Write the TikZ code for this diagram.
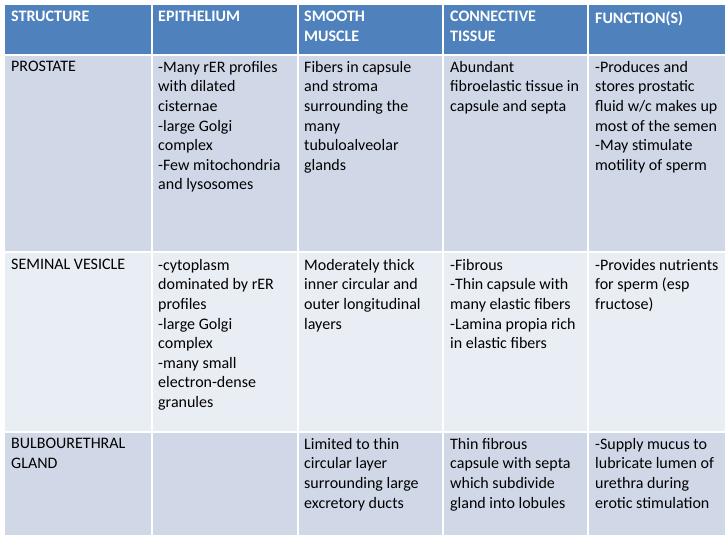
\documentclass[tikz,border=0pt]{standalone}
\usepackage{fontspec}
\setmainfont{Carlito}
\definecolor{hdr}{HTML}{4F81BD}
\definecolor{bandA}{HTML}{D0D8E8}
\definecolor{bandB}{HTML}{E9EDF4}
\begin{document}
\begin{tikzpicture}[x=1pt,y=-1pt,
  cell/.style={anchor=north west,inner sep=0pt,align=left,font=\fontsize{16}{19.6}\selectfont,text=black},
  head/.style={cell,text=white,font=\fontsize{16}{19.6}\selectfont\bfseries},
  sep/.style={white,line width=1.5pt}]
\useasboundingbox (0,0) rectangle (728,546);
\fill[white] (0,0) rectangle (728,546);
\fill[hdr] (5,5) rectangle (725,55);
\fill[bandA] (5,55) rectangle (725,252);
\fill[bandB] (5,252) rectangle (725,432);
\fill[bandA] (5,432) rectangle (725,535);
\foreach \x in {152,298,443,588} \draw[sep] (\x,5) -- (\x,535);
\foreach \y in {55,252,432} \draw[sep] (5,\y) -- (725,\y);
% header
\node[head] (h1) at (11,11) {STRUCTURE};
\node[head] (h2) at (158,11) {EPITHELIUM};
\node[head] (h3) at (304,11) {SMOOTH\\MUSCLE};
\node[head] (h4) at (450,11) {CONNECTIVE\\TISSUE};
\node[head] (h5) at (595,11) {FUNCTION(S)};
% row 1
\node[cell] (a1) at (11,61) {PROSTATE};
\node[cell] (a2) at (158,61) {-Many rER profiles\\with dilated\\cisternae\\-large Golgi\\complex\\-Few mitochondria\\and lysosomes};
\node[cell] (a3) at (304,61) {Fibers in capsule\\and stroma\\surrounding the\\many\\tubuloalveolar\\glands};
\node[cell] (a4) at (450,61) {Abundant\\fibroelastic tissue in\\capsule and septa};
\node[cell] (a5) at (595,61) {-Produces and\\stores prostatic\\fluid w/c makes up\\most of the semen\\-May stimulate\\motility of sperm};
% row 2
\node[cell] (b1) at (11,259) {SEMINAL VESICLE};
\node[cell] (b2) at (158,259) {-cytoplasm\\dominated by rER\\profiles\\-large Golgi\\complex\\-many small\\electron-dense\\granules};
\node[cell] (b3) at (304,259) {Moderately thick\\inner circular and\\outer longitudinal\\layers};
\node[cell] (b4) at (450,259) {-Fibrous\\-Thin capsule with\\many elastic fibers\\-Lamina propia rich\\in elastic fibers};
\node[cell] (b5) at (595,259) {-Provides nutrients\\for sperm (esp\\fructose)};
% row 3
\node[cell] (c1) at (11,438) {BULBOURETHRAL\\GLAND};
\node[cell] (c3) at (304,438) {Limited to thin\\circular layer\\surrounding large\\excretory ducts};
\node[cell] (c4) at (450,438) {Thin fibrous\\capsule with septa\\which subdivide\\gland into lobules};
\node[cell] (c5) at (595,438) {-Supply mucus to\\lubricate lumen of\\urethra during\\erotic stimulation};
\end{tikzpicture}
\end{document}
